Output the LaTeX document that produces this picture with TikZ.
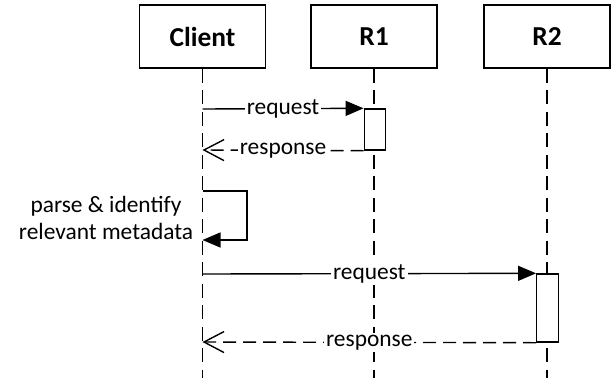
\documentclass[tikz,border=0pt]{standalone}
\usepackage{fontspec}
\setmainfont{Carlito}
\usetikzlibrary{arrows.meta}
\begin{document}
\begin{tikzpicture}[x=1bp,y=-1bp,
  actor/.style={draw, line width=1.4bp, minimum width=126bp, minimum height=63bp,
    inner sep=0pt, font=\fontsize{27.5}{32}\selectfont\bfseries},
  lifeline/.style={line width=1.4bp, dash pattern=on 14bp off 7.5bp},
  activation/.style={draw, fill=white, line width=1.4bp, minimum width=21.5bp, inner sep=0pt},
  callmsg/.style={line width=1.4bp, -{Triangle[length=18bp,width=15bp]}},
  replymsg/.style={line width=1.4bp, dash pattern=on 13bp off 7bp,
    -{Straight Barb[length=20bp,width=21bp]}},
  msglabel/.style={fill=white, inner sep=2bp, font=\fontsize{23.5}{27}\selectfont},
  note/.style={inner sep=0pt, align=center, font=\fontsize{23.5}{27}\selectfont}
]
\useasboundingbox (0,0) rectangle (613,378);

% participants
\node[actor] (client) at (202.5,36.5) {Client};
\node[actor] (r1) at (374,36.5) {R1};
\node[actor] (r2) at (547,36.5) {R2};

% lifelines
\coordinate (clientEnd) at (202.5,378);
\coordinate (r1End) at (374,378);
\coordinate (r2End) at (547,378);
\draw[lifeline] (client.south) -- (clientEnd);
\draw[lifeline] (r1.south) -- (r1End);
\draw[lifeline] (r2.south) -- (r2End);

% activation bars
\node[activation, minimum height=41bp] (act1) at (375,129.5) {};
\node[activation, minimum height=68bp] (act2) at (547.5,308) {};

% points on the client lifeline
\coordinate (c1) at (202.5,109);
\coordinate (c2) at (202.5,150);
\coordinate (s1) at (202.5,191);
\coordinate (s2) at (202.5,240);
\coordinate (sturn) at (247,191);
\coordinate (c3) at (202.5,274);
\coordinate (c4) at (202.5,342);

% exchange with R1
\draw[callmsg] (c1) -- node[msglabel] {request} (act1.north west);
\draw[replymsg] (act1.south west) -- node[msglabel] {response} (c2);

% self call
\draw[callmsg] (s1) -- (sturn) |- (s2);
\node[note] (parse) at (106,218) {parse \& identify\\relevant metadata};

% exchange with R2
\draw[callmsg] (c3) -- node[msglabel] {request} (act2.north west);
\draw[replymsg] (act2.south west) -- node[msglabel] {response} (c4);
\end{tikzpicture}
\end{document}
